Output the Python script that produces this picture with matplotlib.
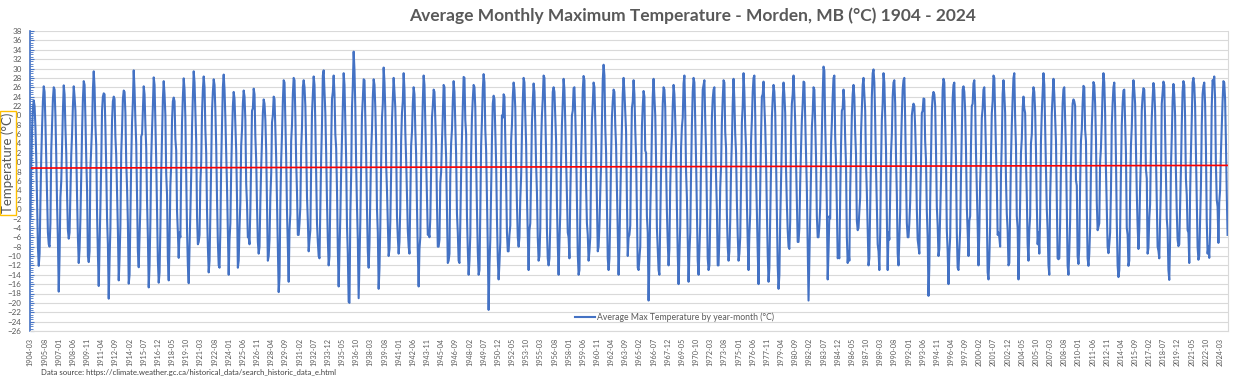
import matplotlib.pyplot as plt
from matplotlib.ticker import MultipleLocator
import numpy as np
import pandas as pd

plt.rcParams['font.family'] = ['Lato', 'DejaVu Sans']

# monthly mean max temperature (°C), one row per year, Jan..Dec
# (1904 starts in March, 1998-10 .. 1999-09 are missing)
tmax_1900s = [
    [-2.0, 9.5, 17.0, 21.5, 23.2, 22.0, 17.5, 11.0, 1.5, -8.0],
    [-12.1, -9.5, 1.5, 11.0, 17.5, 23.0, 26.2, 25.0, 18.5, 10.5, 2.0, -5.0],
    [-7.5, -8.0, -3.0, 12.5, 18.0, 23.5, 26.0, 25.5, 20.0, 11.5, 1.0, -6.5],
    [-17.6, -10.0, 2.5, 6.0, 13.5, 21.0, 26.4, 24.5, 17.5, 12.0, 3.0, -4.5],
    [-6.3, -5.0, 3.0, 11.5, 16.0, 22.0, 26.2, 24.0, 21.0, 12.5, 2.5, -6.0],
    [-11.5, -8.5, -2.0, 7.0, 16.5, 23.5, 27.3, 26.5, 19.5, 11.0, 4.0, -10.0],
]
tmax_1910s = [
    [-11.3, -9.0, 8.5, 13.0, 17.5, 25.5, 29.4, 26.0, 18.0, 13.5, -1.0, -9.5],
    [-16.4, -8.0, 0.5, 10.0, 21.0, 24.0, 24.7, 24.5, 17.5, 9.0, -2.0, -7.5],
    [-19.1, -11.0, -4.0, 10.5, 19.0, 23.0, 24.0, 23.5, 15.5, 11.5, 3.5, -4.5],
    [-15.2, -10.5, -3.5, 12.0, 17.0, 23.5, 25.3, 25.0, 20.5, 10.0, 4.5, -3.0],
    [-15.9, -14.0, -1.0, 10.5, 18.5, 23.0, 29.6, 25.5, 19.0, 14.0, 3.0, -9.0],
    [-12.4, -5.5, 0.5, 15.5, 16.0, 21.0, 26.2, 24.5, 18.0, 13.0, 1.5, -6.0],
    [-16.7, -12.0, -2.5, 11.0, 17.0, 22.0, 28.1, 26.5, 18.0, 10.5, -1.0, -11.0],
    [-15.7, -13.5, -4.0, 8.0, 15.5, 23.5, 27.3, 24.5, 20.0, 7.5, 3.0, -10.5],
    [-15.2, -7.0, 5.0, 9.5, 19.0, 23.0, 23.8, 23.0, 15.0, 12.5, -0.5, -5.0],
    [-10.4, -5.0, -6.0, 9.0, 18.5, 24.0, 27.9, 25.5, 19.5, 8.0, -4.5, -12.0],
]
tmax_1920s = [
    [-15.8, -8.5, -0.5, 7.5, 17.5, 24.0, 29.4, 27.0, 21.0, 14.5, -1.5, -7.5],
    [-7.0, -5.5, 5.5, 10.0, 20.5, 25.5, 28.3, 26.0, 17.0, 12.0, -0.5, -8.0],
    [-13.5, -11.0, -1.0, 10.5, 21.0, 25.0, 27.7, 26.5, 21.0, 13.5, 2.0, -7.0],
    [-12.0, -12.5, -4.5, 10.0, 18.5, 26.0, 28.7, 25.5, 19.5, 12.0, 4.5, -4.5],
    [-14.0, -6.5, -3.0, 8.5, 16.0, 22.0, 25.0, 23.5, 18.0, 12.5, 2.0, -12.5],
    [-11.0, -4.0, 1.5, 13.5, 17.0, 22.5, 25.3, 24.0, 19.0, 5.5, 1.0, -6.0],
    [-6.0, -7.5, 0.0, 11.0, 21.0, 21.5, 25.7, 24.5, 15.5, 10.5, 0.5, -7.0],
    [-9.5, -8.0, 1.5, 9.0, 15.0, 20.5, 23.4, 22.5, 19.0, 12.5, 1.0, -11.0],
    [-10.0, -6.5, 2.5, 7.5, 18.5, 20.0, 24.0, 23.5, 17.0, 11.0, 1.5, -7.0],
    [-17.7, -14.5, 1.0, 10.5, 16.0, 23.0, 27.5, 27.0, 18.5, 11.0, -0.5, -8.0],
]
tmax_1930s = [
    [-15.5, -4.5, -1.0, 14.5, 18.0, 24.5, 28.0, 27.5, 20.0, 10.0, 3.5, -5.5],
    [-5.5, -3.0, 0.5, 13.0, 17.5, 26.0, 27.5, 26.0, 22.0, 13.5, 2.5, -2.5],
    [-9.0, -6.5, -4.5, 9.5, 20.5, 24.5, 28.3, 26.5, 18.0, 7.5, -3.0, -7.0],
    [-10.0, -10.5, 1.0, 11.0, 18.0, 28.5, 29.6, 25.0, 20.5, 12.0, 1.5, -6.5],
    [-12.0, -10.0, 2.5, 14.0, 23.5, 25.0, 28.5, 24.5, 16.0, 13.0, 4.0, -8.5],
    [-16.5, -9.0, -1.5, 8.5, 15.0, 22.0, 29.0, 26.5, 18.5, 10.5, -3.5, -9.5],
    [-19.8, -20.0, -1.0, 7.5, 21.5, 26.5, 33.6, 29.5, 21.5, 9.5, 0.5, -6.5],
    [-19.0, -11.0, -2.5, 10.0, 20.0, 23.5, 27.7, 27.5, 19.0, 11.5, 0.0, -9.0],
    [-12.5, -7.5, 3.0, 12.5, 17.0, 24.0, 27.7, 26.5, 21.5, 14.0, 0.0, -5.0],
    [-17.0, -12.5, -3.5, 10.0, 19.5, 22.5, 30.2, 27.0, 21.0, 9.5, 4.0, -3.5],
]
tmax_1940s = [
    [-10.0, -8.5, -2.5, 8.0, 19.0, 23.5, 28.0, 25.0, 21.5, 13.5, -1.5, -6.0],
    [-9.5, -7.0, 0.5, 14.5, 20.5, 23.0, 29.0, 25.5, 16.5, 10.5, 2.5, -4.5],
    [-8.0, -9.5, 2.0, 13.5, 16.5, 22.5, 26.0, 24.5, 17.0, 11.5, 0.5, -9.0],
    [-16.5, -8.5, -6.0, 9.0, 16.5, 23.0, 28.5, 26.5, 18.5, 11.0, 1.5, -5.5],
    [-5.0, -6.0, -2.0, 9.5, 19.5, 22.0, 25.5, 25.0, 19.0, 13.5, 1.0, -8.0],
    [-8.0, -6.5, 5.5, 8.0, 14.5, 20.0, 26.5, 26.0, 16.0, 11.0, -0.5, -11.5],
    [-11.0, -9.5, 7.0, 14.0, 17.0, 23.0, 27.3, 25.0, 18.5, 11.5, -1.0, -5.0],
    [-11.0, -11.5, -3.0, 8.0, 15.5, 21.5, 28.2, 28.0, 19.0, 16.0, -1.5, -8.5],
    [-14.0, -11.0, -5.5, 12.0, 19.5, 23.5, 26.5, 26.0, 21.5, 10.0, 0.0, -9.0],
    [-14.0, -13.0, -1.0, 13.5, 19.0, 25.5, 28.8, 27.0, 17.0, 12.5, 2.5, -8.0],
]
tmax_1950s = [
    [-21.5, -12.0, -6.5, 4.5, 15.0, 22.5, 24.2, 23.5, 17.0, 10.0, -2.0, -10.5],
    [-15.0, -11.5, -7.0, 9.0, 20.0, 19.5, 24.5, 24.0, 15.0, 6.5, -5.0, -9.0],
    [-9.0, -5.5, -3.5, 14.5, 18.0, 24.0, 27.0, 25.5, 21.5, 10.0, 1.0, -6.0],
    [-8.0, -6.0, 2.0, 7.0, 16.0, 23.0, 28.0, 27.0, 20.0, 14.0, 2.5, -5.5],
    [-13.0, -4.5, -3.0, 8.5, 18.5, 23.0, 26.8, 25.0, 18.0, 9.5, 3.5, -6.0],
    [-11.0, -10.0, -4.0, 14.0, 20.0, 23.5, 28.5, 28.0, 19.5, 12.0, -4.5, -10.5],
    [-12.0, -10.5, -3.5, 7.5, 17.5, 25.0, 26.0, 25.0, 19.5, 14.5, 1.0, -7.5],
    [-14.0, -7.0, -1.0, 10.5, 18.0, 23.0, 27.8, 25.5, 18.5, 10.5, 1.5, -5.0],
    [-6.0, -10.5, 2.5, 11.5, 20.0, 21.0, 25.8, 26.0, 20.0, 13.0, 1.5, -9.5],
    [-14.0, -13.0, -1.5, 10.5, 18.0, 25.5, 28.4, 27.5, 16.5, 5.0, -3.0, -5.5],
]
tmax_1960s = [
    [-11.0, -9.0, -6.0, 9.0, 19.0, 22.5, 27.0, 26.0, 19.5, 12.5, 1.0, -9.0],
    [-8.0, -3.5, 3.5, 9.5, 18.5, 27.5, 30.8, 28.5, 17.5, 12.0, 0.5, -10.5],
    [-13.0, -10.5, -1.5, 11.0, 19.5, 23.0, 25.5, 25.0, 18.0, 13.5, 4.5, -5.0],
    [-14.0, -8.0, 2.0, 10.5, 17.5, 24.5, 28.0, 25.0, 21.0, 16.5, 2.0, -10.0],
    [-6.0, -5.5, -3.5, 11.0, 21.5, 23.0, 27.5, 24.5, 17.0, 11.5, -1.0, -12.5],
    [-13.0, -10.5, -8.0, 6.5, 17.5, 22.0, 25.2, 24.0, 12.5, 12.0, -1.5, -5.0],
    [-19.5, -11.0, -0.5, 7.0, 16.5, 24.0, 27.8, 24.0, 20.0, 10.5, -4.0, -8.5],
    [-13.0, -14.0, -3.0, 8.5, 15.5, 22.5, 26.0, 25.5, 21.5, 9.5, -0.5, -7.0],
    [-12.0, -8.5, 5.0, 12.0, 15.5, 22.0, 26.5, 24.5, 19.0, 12.5, 0.5, -9.5],
    [-16.0, -9.5, -3.5, 13.0, 17.5, 19.5, 26.8, 28.5, 20.5, 8.0, 2.5, -7.0],
]
tmax_1970s = [
    [-15.5, -9.5, -5.0, 8.0, 18.0, 25.0, 28.0, 27.0, 18.5, 10.5, -0.5, -11.0],
    [-14.0, -9.0, -3.0, 10.5, 18.5, 25.5, 26.5, 27.5, 19.0, 12.5, 0.5, -10.5],
    [-13.0, -12.0, -2.5, 7.5, 19.5, 23.5, 25.5, 26.0, 16.0, 7.0, 0.0, -12.0],
    [-12.0, -6.0, 4.5, 9.0, 18.5, 23.5, 27.5, 27.0, 16.5, 13.0, -1.0, -8.0],
    [-11.0, -9.0, -2.5, 8.5, 14.5, 22.5, 27.8, 23.0, 16.0, 12.0, 1.5, -5.5],
    [-11.0, -9.5, -6.0, 5.5, 18.5, 22.0, 29.0, 25.0, 17.5, 13.0, 1.5, -7.0],
    [-13.0, -5.5, -1.0, 14.5, 19.0, 25.0, 28.0, 28.5, 20.0, 8.0, -1.0, -9.0],
    [-16.0, -6.5, 4.0, 15.5, 24.0, 24.5, 27.2, 22.0, 17.5, 10.5, -0.5, -9.5],
    [-15.5, -12.5, -2.0, 9.5, 19.5, 23.5, 26.5, 25.0, 20.5, 10.5, -1.0, -12.0],
    [-17.0, -14.0, -2.5, 6.0, 14.5, 23.5, 27.0, 24.5, 20.5, 8.5, 1.0, -4.5],
]
tmax_1980s = [
    [-8.0, -8.5, -2.5, 15.5, 22.5, 24.5, 28.5, 24.0, 18.5, 10.0, 2.5, -7.0],
    [-7.0, -4.0, 5.5, 13.0, 19.0, 22.5, 27.2, 27.0, 19.0, 10.0, 4.0, -8.0],
    [-19.5, -11.0, -1.5, 7.5, 17.5, 20.5, 26.0, 25.5, 18.5, 11.0, -1.5, -6.0],
    [-6.0, -3.5, 0.5, 8.0, 16.5, 24.5, 30.4, 29.5, 18.0, 10.5, 0.5, -15.0],
    [-9.0, -1.5, -2.0, 14.0, 18.5, 24.0, 28.0, 28.5, 15.5, 10.0, 0.5, -10.5],
    [-10.0, -10.5, 2.5, 13.5, 21.0, 21.5, 25.5, 23.0, 15.0, 9.5, -6.0, -11.5],
    [-9.0, -11.0, 4.0, 12.0, 20.0, 24.5, 26.5, 24.0, 16.5, 11.5, -2.5, -4.5],
    [-4.0, -0.5, 2.5, 16.0, 21.0, 26.5, 28.0, 24.5, 21.0, 9.5, 3.5, -4.5],
    [-12.0, -10.5, 0.5, 11.0, 24.0, 29.0, 29.8, 27.0, 19.0, 9.0, 1.0, -7.5],
    [-9.0, -13.0, -5.0, 9.5, 19.0, 22.5, 29.0, 27.0, 19.5, 12.5, -1.5, -13.0],
]
tmax_1990s = [
    [-5.0, -6.5, 2.5, 12.0, 16.0, 24.0, 27.0, 27.5, 22.5, 11.0, 3.0, -9.5],
    [-12.0, -6.0, -0.5, 13.5, 20.0, 25.5, 27.5, 28.0, 19.0, 8.5, -3.0, -6.0],
    [-6.0, -3.0, 1.5, 9.0, 20.0, 21.5, 22.5, 22.0, 17.5, 11.0, 0.0, -6.5],
    [-8.0, -9.5, 1.5, 10.0, 20.5, 21.0, 23.6, 23.5, 14.5, 10.5, -0.5, -6.0],
    [-18.5, -12.0, 1.5, 11.0, 21.0, 24.0, 25.0, 24.5, 22.0, 12.5, 0.5, -3.5],
    [-10.0, -8.5, -1.0, 6.0, 17.0, 25.5, 27.8, 27.0, 18.5, 10.0, -4.5, -9.0],
    [-16.0, -9.5, -6.0, 7.0, 15.0, 23.5, 26.5, 27.0, 18.5, 10.5, -5.0, -12.5],
    [-13.0, -9.0, -4.5, 7.5, 16.5, 25.5, 26.2, 25.0, 21.0, 12.5, 0.5, -4.5],
    [-10.0, -2.5, -1.5, 13.5, 22.0, 22.5, 26.8, 27.5, 22.5],
    [12.0, 4.5, -3.5],
]
tmax_2000s = [
    [-12.0, -5.0, 5.5, 11.0, 19.5, 21.5, 25.5, 26.0, 19.5, 12.0, -1.0, -13.5],
    [-15.0, -10.5, -3.5, 11.5, 20.5, 23.0, 28.5, 28.0, 20.0, 11.0, 5.0, -5.5],
    [-5.0, -6.0, -8.0, 7.5, 14.5, 24.5, 27.5, 24.5, 20.5, 6.5, -1.0, -4.5],
    [-12.0, -11.5, -1.0, 11.0, 18.0, 23.5, 28.0, 29.0, 19.5, 13.5, -1.5, -4.0],
    [-15.0, -7.5, 1.5, 12.0, 15.0, 21.5, 24.0, 21.5, 20.5, 10.5, 2.5, -7.5],
    [-11.0, -4.5, -1.5, 14.0, 16.0, 23.5, 26.0, 25.0, 21.0, 12.5, 1.0, -7.5],
    [-5.0, -9.5, -2.0, 14.5, 20.5, 24.5, 29.0, 26.5, 18.0, 8.5, 0.0, -4.5],
    [-11.9, -14.0, 2.5, 9.5, 20.5, 24.0, 27.8, 24.5, 19.5, 14.5, 1.5, -10.5],
    [-10.7, -10.5, -3.0, 9.0, 16.0, 22.5, 25.6, 26.0, 19.0, 12.5, 0.5, -12.0],
    [-14.0, -9.0, -2.5, 9.5, 17.5, 22.5, 23.4, 23.0, 22.0, 6.2, 5.0, -10.0],
]
tmax_2010s = [
    [-11.7, -8.0, 5.0, 14.5, 17.0, 22.5, 26.3, 26.0, 17.0, 14.5, 0.5, -10.5],
    [-12.1, -9.5, -4.0, 8.5, 17.5, 22.5, 27.1, 26.5, 22.5, 15.0, 1.5, -4.5],
    [-3.8, -3.0, 10.0, 13.0, 18.5, 25.0, 29.0, 27.0, 20.5, 8.5, 0.5, -8.0],
    [-9.4, -7.5, -5.0, 4.0, 18.0, 22.5, 26.0, 27.0, 21.5, 11.0, -2.5, -12.0],
    [-14.5, -13.0, -4.5, 8.0, 18.0, 22.5, 25.3, 25.5, 18.5, 12.0, -4.0, -5.5],
    [-12.1, -11.0, 3.0, 13.5, 17.5, 24.0, 27.5, 25.5, 22.5, 13.0, 3.5, -3.5],
    [-8.5, -4.5, 4.5, 11.0, 21.0, 24.0, 25.8, 25.5, 19.5, 8.5, 6.5, -9.5],
    [-8.3, -2.0, 1.0, 12.5, 19.5, 23.5, 26.9, 25.5, 21.0, 11.5, 1.0, -8.0],
    [-8.9, -10.5, -2.0, 5.5, 22.5, 25.0, 27.2, 26.5, 16.5, 7.5, -2.0, -4.5],
    [-13.0, -15.1, -6.5, 9.0, 15.5, 23.0, 26.7, 24.5, 20.0, 8.0, -0.5, -6.5],
]
tmax_2020s = [
    [-7.9, -7.5, 0.5, 8.5, 18.0, 25.0, 27.3, 26.5, 19.5, 6.5, 3.0, -4.5],
    [-5.0, -11.5, 3.0, 12.0, 19.0, 27.0, 28.0, 26.5, 22.0, 12.0, 2.5, -8.0],
    [-10.8, -10.0, -2.5, 5.0, 18.0, 24.5, 26.3, 27.0, 22.5, 13.0, -2.5, -9.5],
    [-8.0, -10.4, -5.0, 7.5, 22.0, 27.5, 27.0, 28.3, 23.5, 9.5, 2.0, 0.5],
    [-7.2, 1.5, 4.0, 12.0, 17.5, 23.0, 27.3, 27.0, 23.5, 14.5, 3.5, -5.5],
]

first_month = '1904-03'
last_month = '2024-12'
missing_from, missing_to = '1998-10', '1999-09'

# linear trend line (values read at the two ends)
trend_start = 8.76
trend_end = 9.33

decades = [tmax_1900s, tmax_1910s, tmax_1920s, tmax_1930s, tmax_1940s,
           tmax_1950s, tmax_1960s, tmax_1970s, tmax_1980s, tmax_1990s,
           tmax_2000s, tmax_2010s, tmax_2020s]
values = [v for dec in decades for year in dec for v in year]

months = pd.period_range(first_month, last_month, freq='M')
gap = pd.period_range(missing_from, missing_to, freq='M')
months = months[~months.isin(gap)]
labels = [m.strftime('%Y-%m') for m in months]
assert len(labels) == len(values), (len(labels), len(values))

x = np.arange(len(values))

fig = plt.figure(figsize=(12.45, 3.8), dpi=100)
ax = fig.add_axes([30 / 1245, 1 - 331 / 380, 1198 / 1245, 300 / 380])

ax.plot(x, values, color='#4472C4', lw=1.5, solid_joinstyle='round',
        label='Average Max Temperature by year-month (°C)')
ax.plot([x[0], x[-1]], [trend_start, trend_end], color='#FF0000', lw=1.2)

ax.set_xlim(-0.5, len(values) - 0.5)
ax.set_ylim(-26, 38)
ax.yaxis.set_major_locator(MultipleLocator(2))
ax.yaxis.set_minor_locator(MultipleLocator(0.5))
ax.grid(axis='y', color='#D9D9D9', lw=0.8)
ax.set_axisbelow(True)

ax.set_xticks(x[::17])
ax.set_xticklabels(labels[::17], rotation=90, fontsize=5.2, color='#595959')
ax.tick_params(axis='x', length=0, pad=5)
ax.tick_params(axis='y', which='major', labelsize=5.8, labelcolor='#595959',
               color='#4472C4', length=3, direction='in', pad=6)
ax.tick_params(axis='y', which='minor', color='#4472C4', length=2, direction='in')

ax.spines['top'].set_visible(False)
ax.spines['left'].set_color('#4472C4')
ax.spines['left'].set_linewidth(1.2)
ax.spines['right'].set_color('#D9D9D9')
ax.spines['bottom'].set_color('#D9D9D9')

ax.legend(loc='center', bbox_to_anchor=(0.538, 0.047), frameon=False,
          fontsize=6.2, labelcolor='#595959', handlelength=2.4, handletextpad=0.2)

fig.text(693 / 1245, 1 - 16 / 380,
         'Average Monthly Maximum Temperature - Morden, MB (°C) 1904 - 2024',
         ha='center', va='center', fontsize=12.5, fontweight='bold', color='#595959')
fig.text(8 / 1245, 1 - 163 / 380, 'Temperature (°C)', rotation=90,
         ha='center', va='center', fontsize=9.5, color='#595959',
         bbox=dict(boxstyle='square,pad=0.1', fc='white', ec='#FFC000', lw=1))
fig.text(41 / 1245, 1 - 372 / 380,
         'Data source: https://climate.weather.gc.ca/historical_data/search_historic_data_e.html',
         ha='left', va='center', fontsize=5.6, color='#404040')

fig.savefig('out.png', dpi=100)
